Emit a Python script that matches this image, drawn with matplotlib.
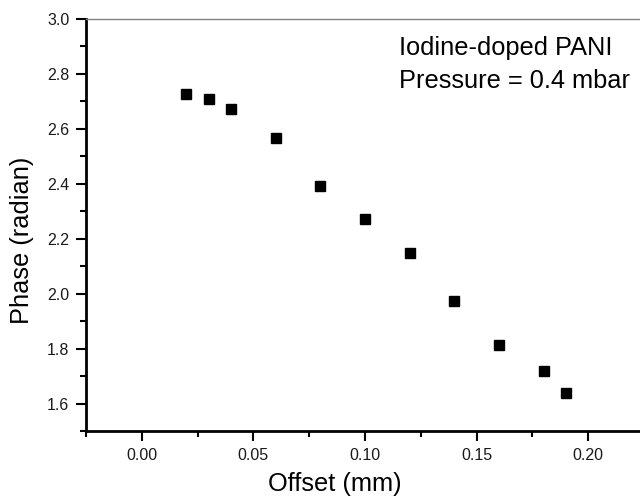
import matplotlib
matplotlib.use("Agg")
import matplotlib.pyplot as plt
from matplotlib.ticker import MultipleLocator

plt.rcParams['font.family'] = ['Liberation Sans', 'DejaVu Sans']

# data
offset = [0.02, 0.03, 0.04, 0.06, 0.08, 0.10, 0.12, 0.14, 0.16, 0.18, 0.19]
phase = [2.726, 2.709, 2.672, 2.567, 2.393, 2.272, 2.148, 1.975, 1.812, 1.719, 1.637]

x_ticks = [0.00, 0.05, 0.10, 0.15, 0.20]
y_ticks = [1.6, 1.8, 2.0, 2.2, 2.4, 2.6, 2.8, 3.0]
note_lines = ["Iodine-doped PANI", "Pressure = 0.4 mbar"]

fig = plt.figure(figsize=(6.4, 4.96), dpi=100)
ax = fig.add_axes([86 / 640, 65 / 496, 558 / 640, 412 / 496])

ax.plot(offset, phase, linestyle='none', marker='s', markersize=6.5,
        color='black')

ax.set_xlim(-0.025, 0.225)
ax.set_ylim(1.5, 3.0)
ax.set_xticks(x_ticks)
ax.set_xticklabels(["%.2f" % v for v in x_ticks])
ax.set_yticks(y_ticks)
ax.set_yticklabels(["%.1f" % v for v in y_ticks])
ax.xaxis.set_minor_locator(MultipleLocator(0.025))
ax.yaxis.set_minor_locator(MultipleLocator(0.1))

ax.tick_params(which='major', direction='out', length=7, width=1.5,
               labelsize=11.5, pad=5, top=False, right=False,
               labelcolor='#1a1a1a')
ax.tick_params(which='minor', direction='out', length=4, width=1.5,
               top=False, right=False)

ax.spines['left'].set_linewidth(2)
ax.spines['bottom'].set_linewidth(2)
ax.spines['top'].set_linewidth(1)
ax.spines['top'].set_color('#808080')
ax.spines['right'].set_visible(False)

ax.set_xlabel("Offset (mm)", fontsize=18.3)
ax.set_ylabel("Phase (radian)", fontsize=18.3)
ax.xaxis.set_label_coords(0.446, -0.129)
ax.xaxis.label.set_verticalalignment('center')
ax.yaxis.set_label_coords(-0.1147, 0.4636)
ax.yaxis.label.set_verticalalignment('center')

ax.text(0.5615, 0.9126, note_lines[0], transform=ax.transAxes,
        fontsize=18.3, ha='left', va='baseline')
ax.text(0.5615, 0.8325, note_lines[1], transform=ax.transAxes,
        fontsize=18.3, ha='left', va='baseline')

fig.savefig("out.png", dpi=100)
